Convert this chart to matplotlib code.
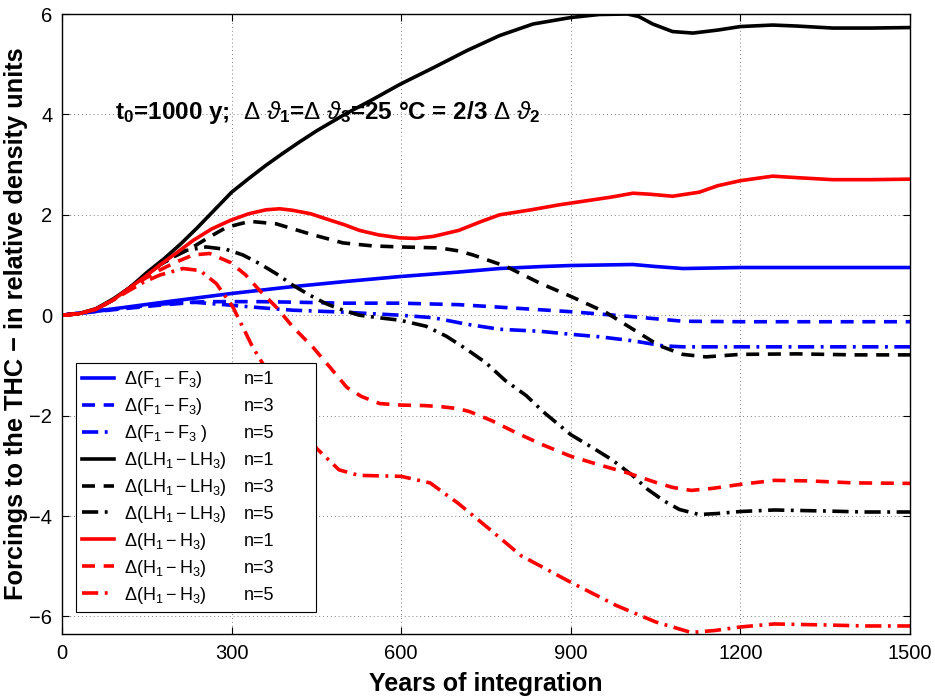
import numpy as np
import matplotlib
matplotlib.use("Agg")
import matplotlib.pyplot as plt

plt.rcParams['font.family'] = ['Liberation Sans', 'DejaVu Sans']
plt.rcParams['mathtext.fontset'] = 'custom'
plt.rcParams['mathtext.rm'] = 'Liberation Sans'
plt.rcParams['mathtext.it'] = 'Liberation Sans:italic'
plt.rcParams['mathtext.bf'] = 'Liberation Sans:bold'

# ==================== Data ====================
# Delta(F1-F3)
yr_f1 = [0, 100, 200, 298, 400, 500, 598, 702, 774, 850, 900, 1010, 1050, 1098, 1150, 1200, 1300, 1500]
f1 = [0, 0.14, 0.29, 0.43, 0.56, 0.67, 0.77, 0.86, 0.93, 0.97, 0.99, 1.01, 0.97, 0.93, 0.94, 0.95, 0.95, 0.95]
yr_f3 = [0, 100, 173, 250, 298, 350, 408, 500, 598, 702, 774, 900, 1010, 1098, 1200, 1500]
f3 = [0, 0.12, 0.2, 0.27, 0.27, 0.27, 0.26, 0.24, 0.24, 0.21, 0.16, 0.07, -0.03, -0.12, -0.13, -0.13]
yr_f5 = [0, 100, 173, 232, 298, 350, 408, 500, 598, 657, 716, 774, 845, 900, 951, 1010, 1063, 1098, 1200, 1500]
f5 = [0, 0.13, 0.22, 0.26, 0.2, 0.15, 0.1, 0.06, 0.0, -0.05, -0.18, -0.28, -0.32, -0.38, -0.43, -0.51, -0.61, -0.63, -0.63, -0.63]

# Delta(LH1-LH3)
yr_lh1 = [0, 30, 60, 90, 120, 150, 180, 210, 240, 270, 300, 330, 360, 390, 420, 450, 500, 550, 598, 657,
          716, 774, 833, 900, 950, 1000, 1020, 1045, 1080, 1116, 1160, 1200, 1257, 1300, 1363, 1430, 1500]
lh1 = [0, 0.03, 0.13, 0.32, 0.55, 0.85, 1.12, 1.42, 1.75, 2.1, 2.45, 2.72, 2.98, 3.22, 3.45, 3.67, 4.0, 4.3, 4.6, 4.93,
       5.27, 5.57, 5.8, 5.93, 5.99, 6.0, 5.95, 5.8, 5.65, 5.62, 5.68, 5.75, 5.78, 5.76, 5.72, 5.72, 5.73]
yr_lh3 = [0, 30, 60, 90, 114, 145, 173, 200, 232, 261, 291, 332, 379, 438, 497, 550, 598, 668, 702, 727,
          786, 845, 900, 963, 1010, 1057, 1098, 1139, 1200, 1300, 1400, 1500]
lh3 = [0, 0.03, 0.12, 0.3, 0.5, 0.77, 1.0, 1.18, 1.36, 1.56, 1.75, 1.87, 1.82, 1.62, 1.44, 1.38, 1.36, 1.34, 1.28, 1.2,
       0.97, 0.64, 0.375, 0.05, -0.28, -0.61, -0.78, -0.83, -0.78, -0.77, -0.79, -0.79]
yr_lh5 = [0, 30, 60, 90, 114, 145, 173, 200, 220, 255, 291, 320, 349, 380, 408, 438, 467, 497, 526, 560, 598,
          644, 680, 716, 750, 784, 821, 854, 900, 940, 973, 1010, 1036, 1065, 1092, 1127, 1160, 1200, 1260,
          1350, 1420, 1500]
lh5 = [0, 0.03, 0.12, 0.3, 0.5, 0.77, 1.0, 1.18, 1.29, 1.36, 1.31, 1.2, 1.03, 0.82, 0.6, 0.4, 0.23, 0.1, 0.0, -0.05, -0.1,
       -0.22, -0.42, -0.68, -0.95, -1.3, -1.6, -1.95, -2.38, -2.65, -2.88, -3.2, -3.47, -3.7, -3.87, -3.97, -3.95, -3.91, -3.88,
       -3.9, -3.92, -3.92]

# Delta(H1-H3)
yr_h1 = [0, 30, 60, 90, 114, 145, 173, 200, 232, 265, 298, 330, 361, 385, 408, 440, 467, 500, 526, 560, 598, 625,
         657, 702, 740, 774, 830, 880, 922, 970, 1010, 1040, 1080, 1127, 1160, 1200, 1257, 1300, 1363, 1430, 1500]
h1 = [0, 0.03, 0.12, 0.3, 0.5, 0.75, 1.0, 1.22, 1.49, 1.72, 1.89, 2.02, 2.1, 2.12, 2.09, 2.02, 1.92, 1.8, 1.69, 1.6, 1.54, 1.53,
      1.57, 1.69, 1.86, 2.0, 2.1, 2.2, 2.27, 2.35, 2.43, 2.41, 2.37, 2.45, 2.58, 2.68, 2.77, 2.74, 2.7, 2.7, 2.71]
yr_h3 = [0, 30, 60, 90, 114, 145, 173, 200, 232, 261, 298, 325, 349, 380, 408, 444, 475, 504, 530, 562, 600, 640, 669,
         700, 721, 760, 805, 850, 900, 950, 1000, 1050, 1080, 1113, 1150, 1200, 1260, 1320, 1400, 1500]
h3 = [0, 0.03, 0.12, 0.3, 0.49, 0.72, 0.9, 1.05, 1.2, 1.23, 1.05, 0.8, 0.5, 0.15, -0.23, -0.64, -1.05, -1.44, -1.62, -1.76,
      -1.79, -1.8, -1.82, -1.86, -1.92, -2.1, -2.35, -2.58, -2.81, -2.98, -3.14, -3.33, -3.43, -3.49, -3.45, -3.37, -3.29,
      -3.3, -3.34, -3.35]
yr_h5 = [0, 30, 60, 90, 114, 145, 173, 214, 244, 273, 302, 337, 356, 400, 451, 490, 525, 600, 651, 700, 756, 812, 900,
         980, 1050, 1113, 1155, 1200, 1260, 1350, 1420, 1500]
h5 = [0, 0.03, 0.12, 0.3, 0.46, 0.66, 0.8, 0.93, 0.89, 0.63, 0.17, -0.63, -0.98, -1.8, -2.66, -3.08, -3.19, -3.21, -3.34,
      -3.74, -4.26, -4.79, -5.32, -5.78, -6.11, -6.32, -6.28, -6.21, -6.15, -6.17, -6.19, -6.19]

names = [r'$\Delta(\mathrm{F}_1 - \mathrm{F}_3)$', r'$\Delta(\mathrm{F}_1 - \mathrm{F}_3)$',
         r'$\Delta(\mathrm{F}_1 - \mathrm{F}_3\ )$',
         r'$\Delta(\mathrm{LH}_1 - \mathrm{LH}_3)$', r'$\Delta(\mathrm{LH}_1 - \mathrm{LH}_3)$',
         r'$\Delta(\mathrm{LH}_1 - \mathrm{LH}_3)$',
         r'$\Delta(\mathrm{H}_1 - \mathrm{H}_3)$', r'$\Delta(\mathrm{H}_1 - \mathrm{H}_3)$',
         r'$\Delta(\mathrm{H}_1 - \mathrm{H}_3)$']
modes = ['n=1', 'n=3', 'n=5'] * 3

series = [(yr_f1, f1), (yr_f3, f3), (yr_f5, f5),
          (yr_lh1, lh1), (yr_lh3, lh3), (yr_lh5, lh5),
          (yr_h1, h1), (yr_h3, h3), (yr_h5, h5)]
colors = ['#0000ff'] * 3 + ['black'] * 3 + ['#ff0000'] * 3
styles = ['-', (0, (3.6, 2.4)), (0, (4.5, 1.8, 0.8, 1.8))] * 3

# ==================== Plot ====================
fig = plt.figure(figsize=(9.35, 7.0), dpi=100)
ax = fig.add_axes([0.0663, 0.0943, 0.907, 0.8857])

lines = []
for (xx, yy), c, ls, lab in zip(series, colors, styles, names):
    ln, = ax.plot(xx, yy, color=c, linestyle=ls, linewidth=2.6, label=lab)
    lines.append(ln)

ax.set_xlim(0, 1500)
ax.set_ylim(-6.35, 6)
ax.set_xticks(np.arange(0, 1501, 300))
ax.set_yticks(np.arange(-6, 7, 2))
ax.tick_params(direction='in', top=True, right=True, labelsize=14.5, length=5, width=0.8, pad=7)
ax.grid(True, linestyle=(0, (1, 3)), color='0.5', linewidth=0.7)
for sp in ax.spines.values():
    sp.set_linewidth(1.0)

ax.set_xlabel("Years of integration", fontsize=18, fontweight='bold', labelpad=7)
ax.set_ylabel("Forcings to the THC \u2212 in relative density units", fontsize=18.3, fontweight='bold', labelpad=1)

ax.text(94, 3.9,
        r't$_\mathbf{0}$=1000 y;  $\Delta\ \vartheta_\mathbf{1}$=$\Delta\ \vartheta_\mathbf{3}$'
        r'=25 °C = 2/3 $\Delta\ \vartheta_\mathbf{2}$',
        fontsize=17.5, fontweight='bold', va='baseline', ha='left')

leg = ax.legend(handles=lines, loc='lower left', bbox_to_anchor=(0.0165, 0.0355, 0.283, 0.4),
                mode='expand', borderaxespad=0, fontsize=13, fancybox=False, edgecolor='black',
                framealpha=1, handlelength=1.75, handletextpad=0.55, labelspacing=0.33, borderpad=0.35)
leg.get_frame().set_linewidth(0.8)

fig.canvas.draw()
renderer = fig.canvas.get_renderer()
lb = leg.get_window_extent(renderer)
inv = fig.transFigure.inverted()
for t, m in zip(leg.get_texts(), modes):
    bx, by = t.get_transform().transform(t.get_position())
    fx, fy = inv.transform((lb.x0 + 0.70 * lb.width, by))
    fig.text(fx, fy, m, fontsize=13, va='baseline', ha='left', zorder=10)

fig.savefig("out.png", dpi=100)
